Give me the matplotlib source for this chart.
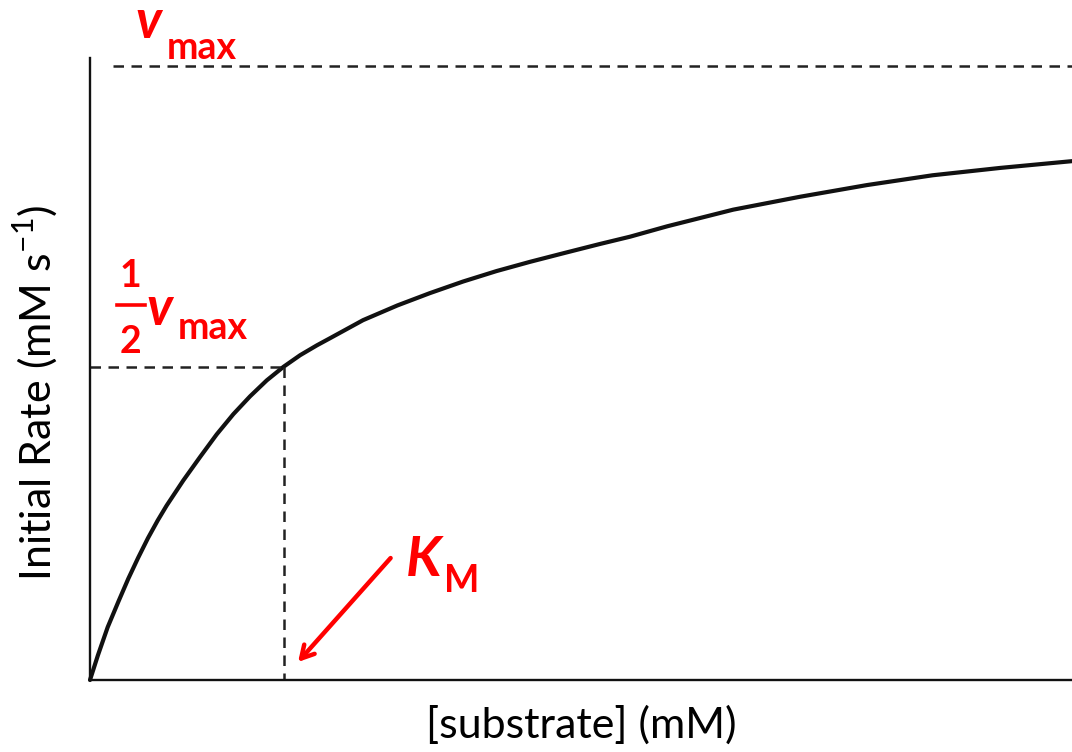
import numpy as np
import matplotlib
matplotlib.use("Agg")
from matplotlib import pyplot as plt

plt.rcParams['font.family'] = ['Lato', 'DejaVu Sans']
plt.rcParams['mathtext.fontset'] = 'custom'
plt.rcParams['mathtext.rm'] = 'Lato'

# Curve: substrate (arbitrary units) vs initial rate (fraction of vmax)
substrate = [0.0, 0.01, 0.08, 0.18, 0.29, 0.39, 0.49, 0.59, 0.69, 0.78, 0.95,
             1.12, 1.29, 1.46, 1.63, 1.80, 1.97, 2.14, 2.31, 2.46, 2.78, 3.13,
             3.46, 3.80, 4.14, 4.48, 4.82, 5.19, 5.50, 5.88, 6.55, 7.23, 7.91,
             8.58, 9.27, 10.0]
rate = [0.0, 0.005, 0.040, 0.086, 0.128, 0.165, 0.199, 0.231, 0.260, 0.284, 0.325,
        0.363, 0.400, 0.433, 0.462, 0.488, 0.510, 0.529, 0.545, 0.558, 0.586, 0.610,
        0.630, 0.649, 0.666, 0.681, 0.695, 0.710, 0.722, 0.739, 0.766, 0.787, 0.806,
        0.822, 0.834, 0.845]

v_max = 1.0
half_v = 0.51
k_m = 1.98

RED = '#ff0000'
DASH = (4.2, 3.0)

fig = plt.figure(figsize=(10.72, 7.52), dpi=100)
ax = fig.add_axes([90 / 1072, 72 / 752, 982 / 1072, 622 / 752])
ax.set_xlim(0, 10)
ax.set_ylim(0, 1.013)

for side in ['top', 'right']:
    ax.spines[side].set_visible(False)
for side in ['left', 'bottom']:
    ax.spines[side].set_linewidth(1.7)
    ax.spines[side].set_color('#111111')
ax.set_xticks([])
ax.set_yticks([])

# curve
ax.plot(substrate, rate, color='#111111', lw=3.0, solid_capstyle='round',
        solid_joinstyle='round', clip_on=False)

# guide lines
ax.plot([0.23, 10.0], [v_max, v_max], color='#222222', lw=1.8, dashes=DASH, clip_on=False)
ax.plot([0.0, k_m], [half_v, half_v], color='#222222', lw=1.8, dashes=DASH)
ax.plot([k_m, k_m], [half_v, 0.0], color='#222222', lw=1.8, dashes=DASH)

# labels
ax.set_xlabel('[substrate] (mM)', fontsize=31, color='black')
ax.xaxis.set_label_coords(0.5, -0.040, transform=ax.transAxes)
ax.xaxis.label.set_va('top')
ax.set_ylabel('Initial Rate (mM s$^{-1}$)', fontsize=31, color='black')
ax.yaxis.set_label_coords(-0.032, 0.462)

# vmax annotation
ax.text(0.46, 1.045, 'v', fontsize=38, fontweight='bold', style='italic',
        color=RED, clip_on=False, va='baseline')
ax.text(0.78, 1.012, 'max', fontsize=27, fontweight='bold',
        color=RED, clip_on=False, va='baseline')

# 1/2 vmax annotation
ax.text(0.41, 0.64, '1', fontsize=27, fontweight='bold', color=RED, ha='center', va='baseline')
ax.plot([0.28, 0.56], [0.610, 0.610], color=RED, lw=2.6)
ax.text(0.41, 0.532, '2', fontsize=27, fontweight='bold', color=RED, ha='center', va='baseline')
ax.text(0.57, 0.578, 'v', fontsize=38, fontweight='bold', style='italic', color=RED, va='baseline')
ax.text(0.89, 0.556, 'max', fontsize=27, fontweight='bold', color=RED, va='baseline')

# KM annotation
ax.annotate('', xy=(2.10, 0.026), xytext=(3.08, 0.202),
            arrowprops=dict(arrowstyle='->, head_length=0.9, head_width=0.5',
                            color=RED, lw=3.2))
ax.text(3.22, 0.17, 'K', fontsize=40, fontweight='bold', style='italic', color=RED, va='baseline')
ax.text(3.60, 0.143, 'M', fontsize=27, fontweight='bold', color=RED, va='baseline')

fig.savefig('out.png', dpi=100)
